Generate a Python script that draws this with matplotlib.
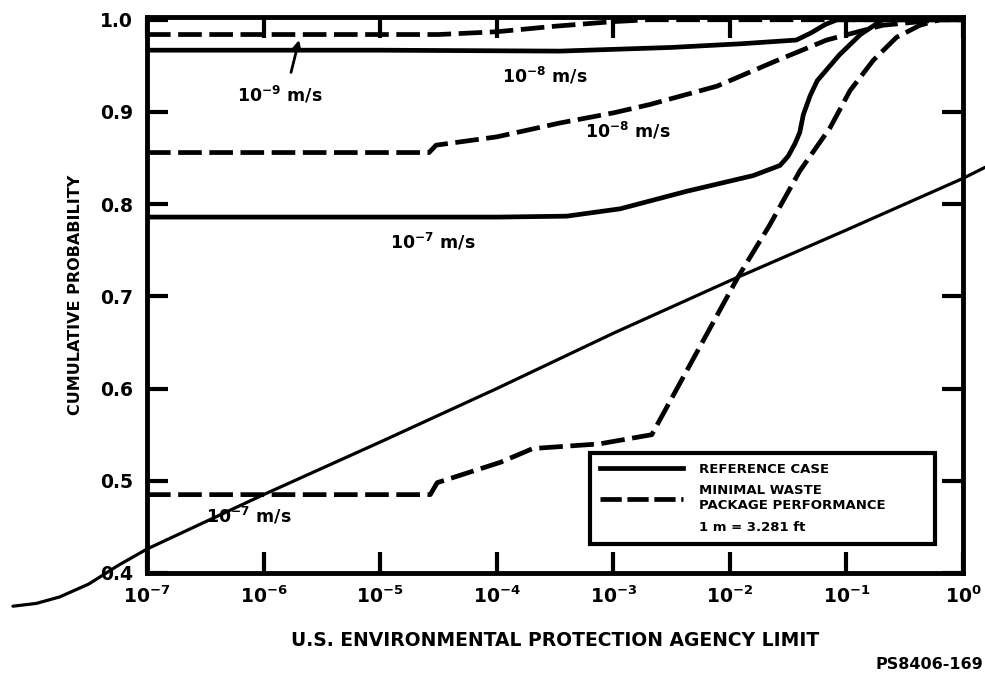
import matplotlib
matplotlib.use("Agg")
import matplotlib.pyplot as plt
import matplotlib.ticker as ticker
from matplotlib.lines import Line2D
import numpy as np

plt.rcParams["font.family"] = ["DejaVu Sans"]
plt.rcParams["font.weight"] = "bold"
plt.rcParams["mathtext.fontset"] = "dejavusans"
plt.rcParams["mathtext.default"] = "bf"

# ---------------------------------------------------------------------------
# Curves: x given as log10 of the EPA-limit fraction, y = cumulative probability
# ---------------------------------------------------------------------------

# reference case, 10^-9 m/s (solid, top)
ref9_logx = [-7.0, -5.0, -3.46, -2.5, -1.9, -1.43, -1.3, -1.18, -1.08, 0.0]
ref9_y    = [0.967, 0.967, 0.966, 0.970, 0.974, 0.978, 0.986, 0.995, 1.0, 1.0]

# minimal waste package, 10^-9 m/s (dashed, top)
min9_logx = [-7.0, -4.5, -4.0, -3.5, -3.0, -2.7, 0.0]
min9_y    = [0.984, 0.984, 0.987, 0.993, 0.998, 1.0, 1.0]

# minimal waste package, 10^-8 m/s (dashed)
min8_logx = [-7.0, -4.58, -4.52, -4.0, -3.46, -3.0, -2.69, -2.11, -1.63,
             -1.17, -0.69, -0.2]
min8_y    = [0.856, 0.856, 0.864, 0.873, 0.888, 0.899, 0.908, 0.928, 0.954,
             0.978, 0.994, 1.0]

# reference case, 10^-7 m/s (solid)
ref7_logx = [-7.0, -4.0, -3.4, -2.94, -2.37, -1.8, -1.57, -1.5, -1.44,
             -1.40, -1.37, -1.31, -1.25, -1.06, -0.88, -0.69, 0.0]
ref7_y    = [0.786, 0.786, 0.787, 0.795, 0.814, 0.831, 0.842, 0.852, 0.866,
             0.878, 0.897, 0.918, 0.934, 0.962, 0.984, 1.0, 1.0]

# minimal waste package, 10^-7 m/s (dashed)
min7_logx = [-7.0, -4.57, -4.51, -3.97, -3.69, -3.12, -2.85, -2.67, -1.93,
             -1.66, -1.40, -1.14, -0.97, -0.77, -0.57, -0.37, -0.2]
min7_y    = [0.485, 0.485, 0.498, 0.520, 0.535, 0.540, 0.546, 0.550, 0.721,
             0.777, 0.836, 0.883, 0.923, 0.956, 0.981, 0.994, 1.0]

# unlabelled solid diagonal, runs past both ends of the frame
diag_logx = [-8.15, -7.95, -7.75, -7.5, -7.25, -7.0, -6.0, -5.0, -4.0, -3.0,
             -2.0, -1.0, 0.0, 0.19]
diag_y    = [0.364, 0.367, 0.374, 0.388, 0.408, 0.426, 0.485, 0.542, 0.600,
             0.660, 0.717, 0.772, 0.828, 0.840]

x_decades = [-7, -6, -5, -4, -3, -2, -1, 0]
y_ticks   = [0.4, 0.5, 0.6, 0.7, 0.8, 0.9, 1.0]

# curve labels: (text, log10 x, y)
curve_labels = [
    (r"$10^{-9}$ m/s", -5.86, 0.918),
    (r"$10^{-8}$ m/s", -3.59, 0.939),
    (r"$10^{-8}$ m/s", -2.88, 0.879),
    (r"$10^{-7}$ m/s", -4.55, 0.759),
    (r"$10^{-7}$ m/s", -6.13, 0.462),
]

# ---------------------------------------------------------------------------
# Figure
# ---------------------------------------------------------------------------

fig = plt.figure(figsize=(9.85, 6.79), dpi=100)
ax = fig.add_axes([147 / 985, 1 - 573 / 679, 816 / 985, 556 / 679])

LW = 3.4
DASH = (5.0, 1.6)

def xs(logx):
    return np.power(10.0, np.array(logx, dtype=float))

ax.plot(xs(ref9_logx), ref9_y, color="black", lw=LW, solid_capstyle="round")
ax.plot(xs(min9_logx), min9_y, color="black", lw=LW, dashes=DASH)
ax.plot(xs(min8_logx), min8_y, color="black", lw=LW, dashes=DASH)
ax.plot(xs(ref7_logx), ref7_y, color="black", lw=LW, solid_capstyle="round")
ax.plot(xs(min7_logx), min7_y, color="black", lw=LW, dashes=DASH)
ax.plot(xs(diag_logx), diag_y, color="black", lw=2.3, clip_on=False,
        solid_capstyle="round")

ax.set_xscale("log")
ax.set_xlim(1e-7, 1e0)
ax.set_ylim(0.4, 1.003)

ax.set_xticks([10.0 ** d for d in x_decades])
ax.xaxis.set_major_formatter(
    ticker.FuncFormatter(lambda v, _: r"$10^{%d}$" % round(np.log10(v))))
ax.xaxis.set_minor_locator(ticker.NullLocator())
ax.set_yticks(y_ticks)
ax.yaxis.set_major_formatter(ticker.FuncFormatter(lambda v, _: f"{v:.1f}"))

ax.tick_params(axis="both", which="major", direction="in", length=15,
               width=3, top=True, right=True, labelsize=13.5)
ax.tick_params(axis="x", pad=9)
ax.tick_params(axis="y", pad=10)
for s in ax.spines.values():
    s.set_linewidth(3.5)

ax.set_ylabel("CUMULATIVE PROBABILITY", fontsize=11.5, fontweight="bold",
              labelpad=12)
ax.set_xlabel("U.S. ENVIRONMENTAL PROTECTION AGENCY LIMIT", fontsize=13.5,
              fontweight="bold", labelpad=17)

for text, lx, y in curve_labels:
    ax.text(10.0 ** lx, y, text, fontsize=12.5, fontweight="bold",
            ha="center", va="center")

# arrow from the 10^-9 label up to its curves
ax.annotate("", xy=(10.0 ** -5.69, 0.981), xytext=(10.0 ** -5.77, 0.940),
            arrowprops=dict(arrowstyle="-|>", lw=2, color="black",
                            mutation_scale=12))

handles = [
    Line2D([], [], color="black", lw=3.4),
    Line2D([], [], color="black", lw=3.4, dashes=(4.5, 1.2)),
    Line2D([], [], color="none"),
]
labels = ["REFERENCE CASE", "MINIMAL WASTE\nPACKAGE PERFORMANCE",
          "1 m = 3.281 ft"]
leg = ax.legend(handles, labels, loc="upper left",
                bbox_to_anchor=(0.543, 0.049, 0.423, 0.167), mode="expand",
                prop={"weight": "bold", "size": 9.5},
                handlelength=6.3, handletextpad=1.2, labelspacing=0.65,
                borderpad=0.75, borderaxespad=0.0, fancybox=False,
                framealpha=1, edgecolor="black")
leg.get_frame().set_linewidth(3)

fig.text(0.998, 0.021, "PS8406-169", ha="right", va="center", fontsize=11.5,
         fontweight="bold")

fig.savefig("out.png", dpi=100, facecolor="white")
